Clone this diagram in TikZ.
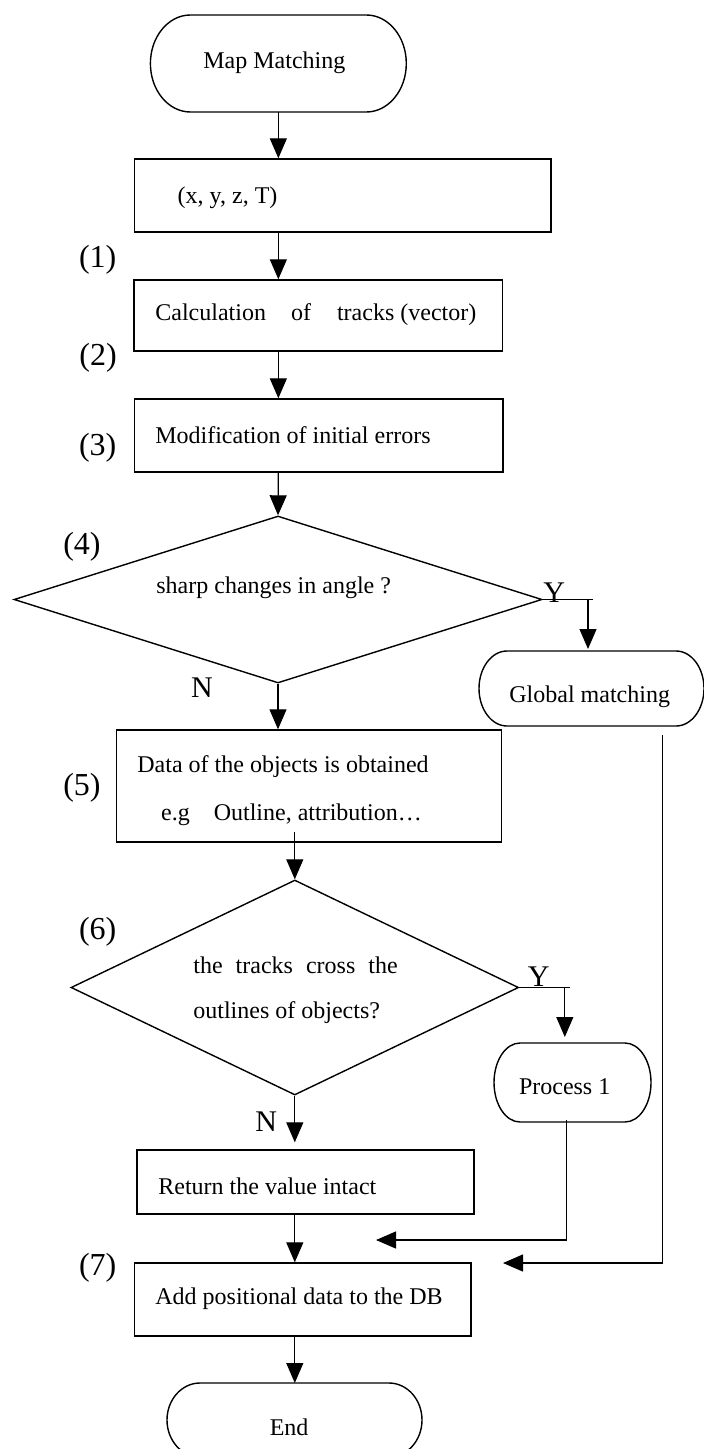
\documentclass[tikz,border=0pt]{standalone}
\usepackage{fontspec}
\setmainfont{Liberation Serif}
\usetikzlibrary{arrows.meta,shapes.geometric}
% outline of a terminal: flat top and bottom, half-ellipse ends
\newcommand\stadium[3]{%
  \draw[line width=0.7pt] ([xshift=#2]#1.north west) -- ([xshift=-#2]#1.north east)
    arc[start angle=90,end angle=-90,x radius=#2,y radius=#3]
    -- ([xshift=#2]#1.south west)
    arc[start angle=270,end angle=90,x radius=#2,y radius=#3] -- cycle;}
\begin{document}
\begin{tikzpicture}[x=0.5pt,y=-0.5pt,
  box/.style={draw, line width=0.7pt, rectangle, inner sep=0pt},
  term/.style={rectangle, inner sep=0pt, outer sep=0pt},
  decision/.style={draw, line width=0.7pt, diamond, inner sep=0pt},
  txt/.style={anchor=west, inner sep=0pt, font=\fontsize{12}{14}\selectfont},
  num/.style={anchor=west, inner sep=0pt, font=\fontsize{16}{19}\selectfont},
  yn/.style={anchor=west, inner sep=0pt, font=\fontsize{15}{18}\selectfont},
  link/.style={draw, line width=0.6pt},
  flow/.style={link, -{Triangle[length=10pt,width=8.5pt]}}]
\useasboundingbox (0,0) rectangle (704,1449);

% shapes of the flow
\node[term, minimum width=127.95pt, minimum height=48.5pt] (start) at (278.35,63.5) {};
\node[box, minimum width=208.1pt, minimum height=36.5pt] (xyz) at (342.8,195.5) {};
\node[box, minimum width=184.35pt, minimum height=35.5pt] (calc) at (318.35,315.5) {};
\node[box, minimum width=184.1pt, minimum height=36.5pt] (mod) at (318.8,435.5) {};
\node[decision, minimum width=264pt, minimum height=83.5pt] (d1) at (278,599.5) {};
\node[term, minimum width=112.5pt, minimum height=37.5pt] (global) at (591.5,688.5) {};
\node[box, minimum width=192.4pt, minimum height=56pt] (box5) at (309.1,786) {};
\node[decision, minimum width=223.8pt, minimum height=107.5pt] (d2) at (294.8,987.5) {};
\node[term, minimum width=78.5pt, minimum height=39.5pt] (proc) at (572.5,1082.5) {};
\node[box, minimum width=168.5pt, minimum height=32pt] (ret) at (305.5,1182) {};
\node[box, minimum width=168.15pt, minimum height=36.5pt] (add) at (302.85,1299.5) {};
\node[term, minimum width=127.5pt, minimum height=37pt] (stop) at (294.5,1420) {};

\stadium{start}{20pt}{24.25pt}
\stadium{global}{14pt}{18.75pt}
\stadium{proc}{13pt}{19.75pt}
\stadium{stop}{16.5pt}{18.5pt}

% texts inside the shapes
\node[txt] (tstart) at (203,63) {Map Matching};
\node[txt] (txyz) at (177.3,198) {(x, y, z, T)};
\node[txt] (tcalc) at (155,315) {Calculation\hspace{12.5pt}of\hspace{13pt}tracks (vector)};
\node[txt] (tmod) at (154.9,435) {Modification of initial errors};
\node[txt] (td1) at (156,588) {sharp changes in angle ?};
\node[txt] (tglobal) at (509,697) {Global matching};
\node[txt] (tbox5a) at (137,767) {Data of the objects is obtained};
\node[txt] (tbox5b) at (160.7,815) {e.g\hspace{12pt}Outline, attribution…};
\node[txt] (td2a) at (193,965) {the\hspace{6.5pt}tracks\hspace{6.5pt}cross\hspace{6.5pt}the};
\node[txt] (td2b) at (193,1013) {outlines of objects?};
\node[txt] (tproc) at (518.6,1087) {Process 1};
\node[txt] (tret) at (158,1186) {Return the value intact};
\node[txt] (tadd) at (155,1299) {Add positional data to the DB};
\node[txt] (tstop) at (269.4,1427) {End};

% step numbers
\node[num] (n1) at (78.6,260) {(1)};
\node[num] (n2) at (79,358) {(2)};
\node[num] (n3) at (78.6,448) {(3)};
\node[num] (n4) at (62.9,547) {(4)};
\node[num] (n5) at (62.9,788) {(5)};
\node[num] (n6) at (78.6,932) {(6)};
\node[num] (n7) at (78.6,1268) {(7)};

% branch labels
\node[yn] (y1) at (543,592.5) {Y};
\node[yn] (no1) at (190.8,688) {N};
\node[yn] (y2) at (527.5,977) {Y};
\node[yn] (no2) at (255,1122) {N};

% junction points
\coordinate (y1end) at (592.7,599.5);
\coordinate (y1drop) at (588,599.5);
\coordinate (b5out) at (294.8,832);
\coordinate (y2end) at (570.2,987.5);
\coordinate (y2drop) at (564.8,987.5);
\coordinate (pout) at (566.7,1120);
\coordinate (ptip) at (376,1240);
\coordinate (gout) at (662.7,735);
\coordinate (gtip) at (503,1263);

% connectors
\draw[flow] (start.south) -- (start.south |- xyz.north);
\draw[flow] (start.south |- xyz.south) -- (start.south |- calc.north);
\draw[flow] (start.south |- calc.south) -- (start.south |- mod.north);
\draw[flow] (start.south |- mod.south) -- (d1.north);
\draw[link] (d1.east) -- (y1end);
\draw[flow, shorten >=1pt] (y1drop) -- (y1drop |- global.north);
\draw[flow] (d1.south) -- (d1.south |- box5.north);
\draw[flow] (b5out) -- (d2.north);
\draw[link] (d2.east) -- (y2end);
\draw[flow, shorten >=3pt] (y2drop) -- (y2drop |- proc.north);
\draw[flow, shorten >=3.5pt] (d2.south) -- (d2.south |- ret.north);
\draw[flow] (d2.south |- ret.south) -- (d2.south |- add.north);
\draw[flow] (d2.south |- add.south) -- (d2.south |- stop.north);
\draw[flow] (pout) -- (pout |- ptip) -- (ptip);
\draw[flow] (gout) -- (gout |- gtip) -- (gtip);
\end{tikzpicture}
\end{document}
